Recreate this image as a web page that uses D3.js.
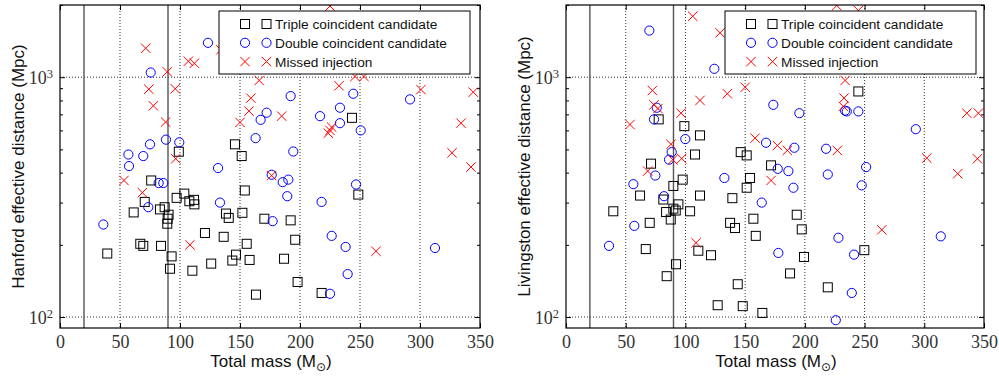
<!DOCTYPE html>
<html>
<head>
<meta charset="utf-8">
<script src="https://cdn.jsdelivr.net/npm/d3@7"></script>
<style>
  body { margin: 0; background: #fff; }
  svg { display: block; }
  .tick text { font-family: "Liberation Serif", "DejaVu Serif", serif; font-size: 18px; fill: #333; }
  .lab { font-family: "Liberation Sans", "DejaVu Sans", sans-serif; font-size: 17px; fill: #111; }
  .leg { font-family: "Liberation Sans", "DejaVu Sans", sans-serif; font-size: 13.7px; fill: #111; }
</style>
</head>
<body>
<svg width="999" height="378"></svg>
<script>
// total mass (Msun), effective distance (Mpc)
var hanfordTriple = [[99,489],[145.8,525],[151.4,469],[76,371],[154,337],[97.2,314],[70.6,302],[61.4,273],[83.3,281],[87.2,287],[90.5,267],[89.7,257],[89.4,245],[103.6,327],[107.8,304],[111.7,308],[112,295],[138.3,270],[140.6,259],[152,272],[120.8,224],[136.4,216],[155.6,202],[146.7,182],[143.6,172],[158,173],[126,167],[110.3,156],[91.7,159],[93,179],[84.2,198],[66.9,202],[69.4,198],[39.4,184],[248.6,324],[170.3,257],[192.2,253],[196,210],[186.7,175],[198,140],[163.3,124],[218,126],[243.3,677]];
var hanfordDouble = [[123.3,1391],[75.6,1046],[57,476],[57.5,426],[69.4,469],[75,525],[88.3,549],[99.4,535],[131.7,418],[82.2,362],[86.1,362],[73.6,287],[133.3,300],[36.1,243],[185.6,365],[190.3,374],[176.4,392],[189.4,319],[218,302],[246.7,357],[177.2,251],[225,125],[226.4,218],[238,196],[239.7,151],[312.5,194],[192.2,834],[172.2,711],[167.2,664],[163,557],[194.4,490],[216.7,688],[233.3,746],[233.3,643],[244.4,853],[250.6,600],[291.7,808]];
var hanfordMissed = [[71.4,1321],[134,1300],[107,1166],[112,1143],[89.4,1053],[74,891],[96,895],[77.8,760],[88,650],[150,648],[166,969],[159,818],[157.5,722],[96.4,457],[53.3,371],[68.6,330],[108.3,200],[176.4,389],[263.3,188],[184.7,688],[225,600],[226.4,619],[223.6,584],[232.5,921],[245.8,1007],[253.3,1007],[225,1980],[300.8,888],[344.4,866],[334.2,643],[326.7,484],[342.5,422]];

var livingstonTriple = [[77.6,667],[99.1,625],[112.2,572],[108,476],[146.3,487],[151.3,472],[71.2,436],[97.7,374],[154.1,380],[171.7,429],[89.9,352],[62,321],[81.5,309],[112.2,321],[139.3,313],[151.3,346],[89.9,283],[91.9,278],[94.1,295],[83.8,274],[103.9,276],[87.7,255],[39.6,276],[70.1,247],[137.4,247],[141.5,235],[156.9,257],[66.8,192],[110.8,189],[121.4,181],[92.1,166],[84.3,148],[143.8,137],[127,112],[148,111],[244.8,872],[193.2,267],[197.4,232],[158.9,218],[249.8,190],[199.3,178],[187.6,152],[219.2,133],[164.4,104]];
var livingstonDouble = [[69.8,1565],[124.2,1084],[76,746],[73.7,667],[99.9,552],[88.5,487],[86.3,453],[74.8,389],[56.4,358],[132.6,380],[82.1,319],[57.2,240],[36,198],[190.4,346],[247.6,354],[163.9,300],[228.1,214],[313.8,217],[177.8,185],[241.2,182],[239.3,126],[225.9,97],[235.1,720],[244.8,720],[233.7,725],[173.6,767],[195.4,708],[292.9,607],[167.5,533],[191.2,508],[217.8,503],[251.3,422],[177.3,415],[186.2,406],[219.2,393]];
var livingstonMissed = [[106.1,1795],[129,1531],[72.3,880],[73.7,767],[77,740],[53.6,635],[135.1,853],[150,908],[112.2,800],[96.3,708],[87.9,525],[89.4,453],[96.9,458],[68.4,406],[108.9,204],[171.7,371],[264.4,231],[226.7,1990],[244.8,1897],[233.7,969],[232.8,818],[232.2,755],[335.6,708],[345.3,708],[158.3,557],[177,519],[185.3,495],[227.2,495],[302.1,460],[344.5,457],[328,396]];

var massTicks = [0, 50, 100, 150, 200, 250, 300, 350];
var massGrid = [50, 100, 150, 200, 250, 300];
var distMajor = [100, 1000];
var distMinor = [200, 300, 400, 500, 600, 700, 800, 900, 2000];
var massCuts = [20, 90];
var legendNames = ['Triple coincident candidate', 'Double coincident candidate', 'Missed injection'];

var svg = d3.select('svg');

function drawMarker(g, kind, x, y) {
    if (kind === 'sq') {
        g.append('rect').attr('x', x - 4.5).attr('y', y - 4.5)
            .attr('width', 9).attr('height', 9)
            .attr('fill', 'none').attr('stroke', '#000').attr('stroke-width', 1);
    } else if (kind === 'ci') {
        g.append('circle').attr('cx', x).attr('cy', y).attr('r', 4.6)
            .attr('fill', 'none').attr('stroke', '#0000ff').attr('stroke-width', 1);
    } else {
        g.append('path')
            .attr('d', 'M' + (x - 4.7) + ',' + (y - 4.7) + 'L' + (x + 4.7) + ',' + (y + 4.7) +
                'M' + (x - 4.7) + ',' + (y + 4.7) + 'L' + (x + 4.7) + ',' + (y - 4.7))
            .attr('stroke', '#ff0000').attr('stroke-width', 1).attr('fill', 'none');
    }
}

function panel(left, right, ylabel, triple, dbl, missed, clipId) {
    var top = 5, bottom = 328;
    var x = d3.scaleLinear().domain([0, 350]).range([left, right]);
    var y = d3.scaleLog().domain([90, 2000]).range([bottom, top]);

    svg.append('clipPath').attr('id', clipId).append('rect')
        .attr('x', left).attr('y', top).attr('width', right - left).attr('height', bottom - top);

    var grid = svg.append('g');
    grid.selectAll('.gx').data(massGrid).enter().append('line')
        .attr('x1', d => x(d)).attr('x2', d => x(d))
        .attr('y1', top).attr('y2', bottom)
        .attr('stroke', '#333').attr('stroke-width', 1).attr('stroke-dasharray', '1,2');
    grid.selectAll('.gy').data(distMajor).enter().append('line')
        .attr('x1', left).attr('x2', right)
        .attr('y1', d => y(d)).attr('y2', d => y(d))
        .attr('stroke', '#333').attr('stroke-width', 1).attr('stroke-dasharray', '1,2');

    svg.append('g').selectAll('line').data(massCuts).enter().append('line')
        .attr('x1', d => x(d)).attr('x2', d => x(d))
        .attr('y1', top).attr('y2', bottom)
        .attr('stroke', '#555').attr('stroke-width', 1.4);

    var pts = svg.append('g').attr('clip-path', 'url(#' + clipId + ')');
    triple.forEach(d => drawMarker(pts, 'sq', x(d[0]), y(d[1])));
    dbl.forEach(d => drawMarker(pts, 'ci', x(d[0]), y(d[1])));
    missed.forEach(d => drawMarker(pts, 'x', x(d[0]), y(d[1])));

    // axes with inward ticks
    svg.append('g').attr('transform', 'translate(0,' + bottom + ')')
        .call(d3.axisBottom(x).tickValues(massTicks).tickSizeInner(-5).tickSizeOuter(0).tickPadding(7));
    svg.append('g').attr('transform', 'translate(0,' + top + ')')
        .call(d3.axisTop(x).tickValues(massTicks).tickSizeInner(-5).tickSizeOuter(0).tickFormat(''));

    var yl = svg.append('g').attr('transform', 'translate(' + left + ',0)')
        .call(d3.axisLeft(y).tickValues(distMajor).tickSizeInner(-5).tickSizeOuter(0).tickFormat(''));
    svg.append('g').attr('transform', 'translate(' + left + ',0)')
        .call(d3.axisLeft(y).tickValues(distMinor).tickSizeInner(-3).tickSizeOuter(0).tickFormat(''));
    svg.append('g').attr('transform', 'translate(' + right + ',0)')
        .call(d3.axisRight(y).tickValues(distMajor).tickSizeInner(-5).tickSizeOuter(0).tickFormat(''));
    svg.append('g').attr('transform', 'translate(' + right + ',0)')
        .call(d3.axisRight(y).tickValues(distMinor).tickSizeInner(-3).tickSizeOuter(0).tickFormat(''));

    svg.selectAll('.domain').remove();
    svg.selectAll('.tick line').attr('stroke', '#000');

    // 10^n labels
    yl.selectAll('.tick').each(function(d) {
        var t = d3.select(this).append('text').attr('x', -7).attr('dy', '0.35em')
            .attr('text-anchor', 'end').attr('fill', '#333');
        t.append('tspan').text('10');
        t.append('tspan').attr('dy', '-0.45em').attr('font-size', '12.5px').text(Math.round(Math.log10(d)));
    });

    svg.append('rect').attr('x', left).attr('y', top)
        .attr('width', right - left).attr('height', bottom - top)
        .attr('fill', 'none').attr('stroke', '#000').attr('stroke-width', 1.2);

    // legend
    var lx = left + 159, ly = 11, lw = 251, lh = 63;
    var leg = svg.append('g');
    leg.append('rect').attr('x', lx).attr('y', ly).attr('width', lw).attr('height', lh)
        .attr('fill', '#fff').attr('stroke', '#000').attr('stroke-width', 1);
    ['sq', 'ci', 'x'].forEach(function(k, i) {
        var yy = ly + 13 + i * 18.8;
        drawMarker(leg, k, lx + 26, yy);
        drawMarker(leg, k, lx + 47.5, yy);
        leg.append('text').attr('class', 'leg').attr('x', lx + 56).attr('y', yy)
            .attr('dy', '0.36em').text(legendNames[i]);
    });

    // axis labels
    var xt = svg.append('text').attr('class', 'lab')
        .attr('x', (left + right) / 2 + 1).attr('y', 367).attr('text-anchor', 'middle');
    xt.append('tspan').text('Total mass (M');
    xt.append('tspan').attr('dy', '4').attr('font-size', '12px').text('\u2299');
    xt.append('tspan').attr('dy', '-4').text(')');

    svg.append('text').attr('class', 'lab')
        .attr('transform', 'translate(' + (left - 42) + ',' + ((top + bottom) / 2) + ') rotate(-90)')
        .attr('dy', '0.35em').attr('text-anchor', 'middle').text(ylabel);
}

panel(60, 480, 'Hanford effective distance (Mpc)', hanfordTriple, hanfordDouble, hanfordMissed, 'clipH');
panel(566, 984, 'Livingston effective distance (Mpc)', livingstonTriple, livingstonDouble, livingstonMissed, 'clipL');
</script>
</body>
</html>
